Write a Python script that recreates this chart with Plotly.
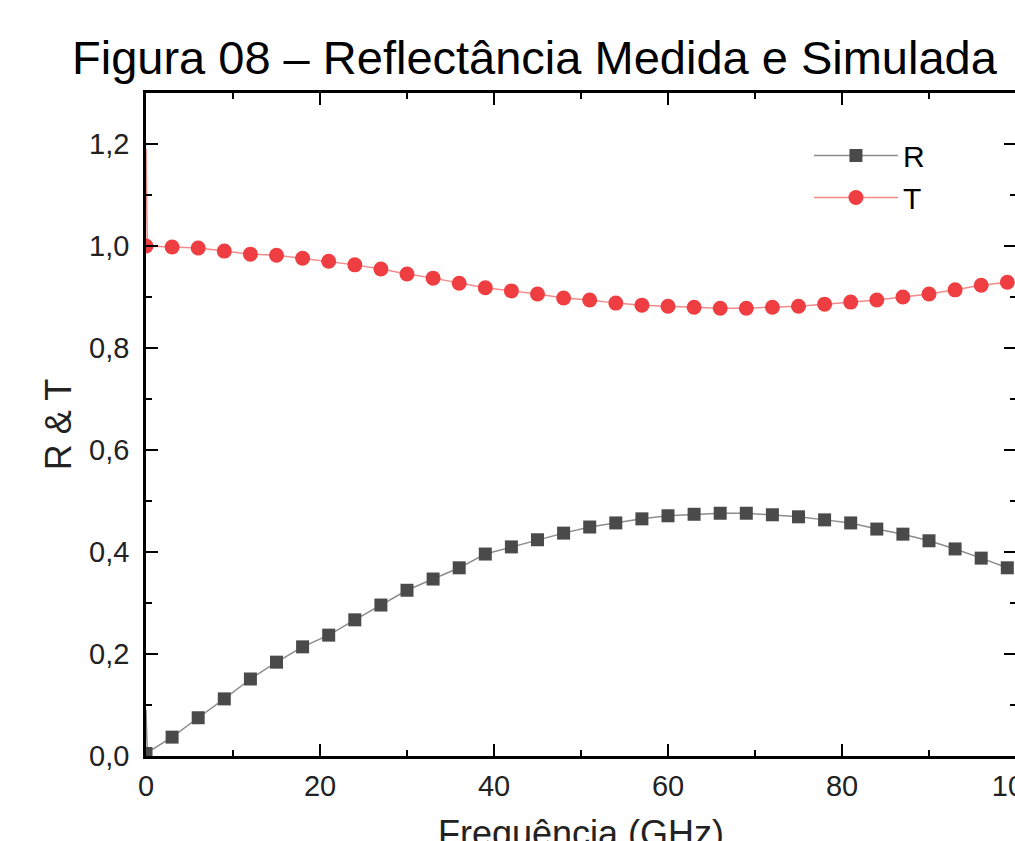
import plotly.graph_objects as go

# Data
freq = [0, 3, 6, 9, 12, 15, 18, 21, 24, 27, 30, 33, 36, 39, 42, 45, 48, 51,
        54, 57, 60, 63, 66, 69, 72, 75, 78, 81, 84, 87, 90, 93, 96, 99]
R_vals = [0.005, 0.037, 0.075, 0.112, 0.151, 0.184, 0.214, 0.237, 0.267, 0.296,
          0.325, 0.347, 0.369, 0.396, 0.410, 0.424, 0.437, 0.449, 0.457, 0.465,
          0.471, 0.474, 0.476, 0.476, 0.473, 0.469, 0.463, 0.457, 0.445, 0.435,
          0.422, 0.406, 0.388, 0.369]
T_vals = [1.000, 0.998, 0.996, 0.990, 0.984, 0.982, 0.976, 0.970, 0.963, 0.955,
          0.945, 0.937, 0.927, 0.918, 0.912, 0.906, 0.898, 0.894, 0.888, 0.884,
          0.882, 0.880, 0.878, 0.878, 0.880, 0.882, 0.886, 0.890, 0.894, 0.900,
          0.906, 0.914, 0.923, 0.929]
# start-up spike of the simulated curves at 0 GHz
spike_x = [0, 0.15]
spike_R = [0.09, 0.005]
spike_T = [1.19, 1.0]

x_ticks = [0, 20, 40, 60, 80, 100]
y_ticks = [0.0, 0.2, 0.4, 0.6, 0.8, 1.0, 1.2]

FONT = "Arial, Liberation Sans, sans-serif"
R_MARK, R_LINE = "#4a4a4a", "#8c8c8c"
T_MARK, T_LINE = "#ee3e42", "#f28a8c"

W, H = 1070, 880

fig = go.Figure()
fig.add_trace(go.Scatter(x=spike_x, y=spike_R, mode="lines", showlegend=False,
                         line=dict(color=R_LINE, width=1.5), hoverinfo="skip"))
fig.add_trace(go.Scatter(x=spike_x, y=spike_T, mode="lines", showlegend=False,
                         line=dict(color=T_LINE, width=1.5), hoverinfo="skip"))
fig.add_trace(go.Scatter(x=freq, y=R_vals, mode="lines+markers", name="R",
                         line=dict(color=R_LINE, width=1.5),
                         marker=dict(symbol="square", size=13, color=R_MARK)))
fig.add_trace(go.Scatter(x=freq, y=T_vals, mode="lines+markers", name="T",
                         line=dict(color=T_LINE, width=1.5),
                         marker=dict(symbol="circle", size=15, color=T_MARK)))

axis_common = dict(showline=True, linecolor="black", linewidth=2.5, mirror="allticks",
                   ticks="inside", ticklen=12, tickwidth=2, tickcolor="black",
                   showgrid=False, zeroline=False, ticklabeloverflow="allow",
                   automargin=False,
                   tickfont=dict(family=FONT, size=29, color="#222"))

fig.update_xaxes(range=[0, 100], tickvals=x_ticks, ticklabelstandoff=2,
                 minor=dict(ticks="inside", ticklen=6, tickwidth=2, tickcolor="black", dtick=10),
                 title=dict(text="Frequência (GHz)", font=dict(family=FONT, size=36, color="#222"),
                            standoff=21),
                 **axis_common)
fig.update_yaxes(range=[0, 1.3], tickvals=y_ticks, tickformat=".1f", ticklabelstandoff=8,
                 minor=dict(ticks="inside", ticklen=6, tickwidth=2, tickcolor="black", dtick=0.1),
                 title=dict(text="R & T", font=dict(family=FONT, size=36, color="#222"),
                            standoff=7),
                 **axis_common)

fig.update_layout(
    width=W, height=H,
    margin=dict(l=146, r=W - 1016, t=93, b=H - 756, autoexpand=False),
    paper_bgcolor="white", plot_bgcolor="white",
    separators=",.",
    title=dict(text="Figura 08 – Reflectância Medida e Simulada",
               font=dict(family=FONT, size=47, color="black"),
               x=72 / W, xanchor="left", y=1 - 58 / H, yanchor="middle"),
    legend=dict(x=0.762, y=0.945, xanchor="left", yanchor="top",
                bgcolor="rgba(0,0,0,0)", itemwidth=84,
                font=dict(family=FONT, size=30, color="black"), tracegroupgap=0),
    showlegend=True,
)

fig.write_html("out.html", config={"displayModeBar": False},
               post_script="document.body.style.margin='0';document.body.style.overflow='hidden';")
